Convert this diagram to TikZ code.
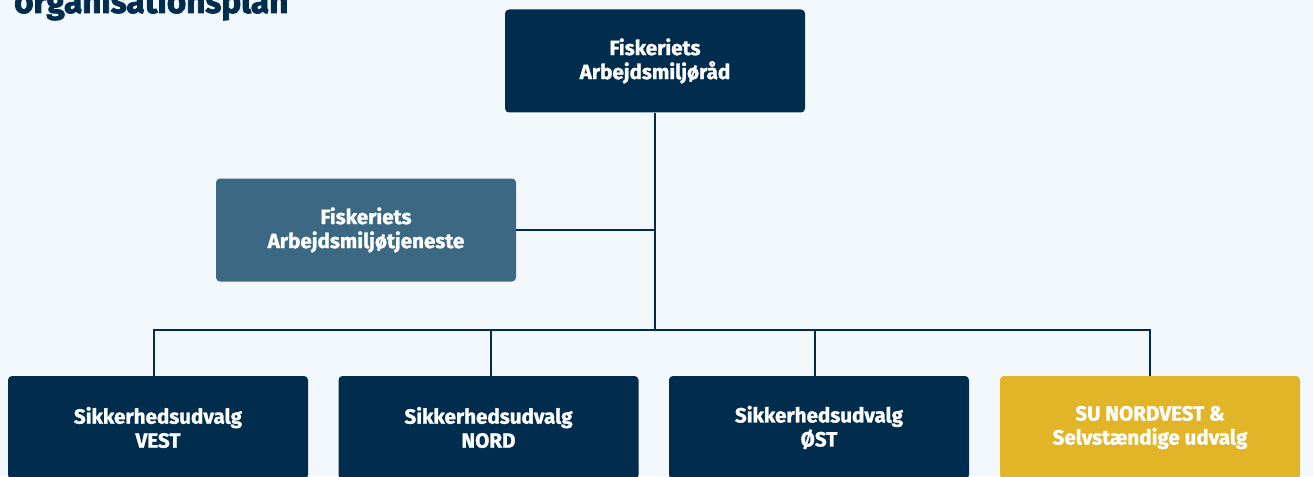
\documentclass[tikz,border=0pt]{standalone}
\usepackage{fontspec}
\setmainfont{Fira Sans}
\newfontfamily\heavyfont[BoldFeatures={FakeBold=1.3}]{Fira Sans}
\newfontfamily\blackfont[BoldFeatures={FakeBold=2.4}]{Fira Sans}
\definecolor{bg}{HTML}{F3F8FC}
\definecolor{navy}{HTML}{002D4E}
\definecolor{steel}{HTML}{3B6882}
\definecolor{gold}{HTML}{E2B428}
\tikzset{
  orgbox/.style={fill=navy, rounded corners=4pt, minimum width=300pt, minimum height=103pt,
    inner sep=0pt, align=center, text=white, font=\heavyfont\fontsize{20.6}{24}\selectfont\bfseries},
  link/.style={draw=navy, line width=2pt}
}
\begin{document}
\begin{tikzpicture}[x=1pt,y=-1pt]
\useasboundingbox (0,0) rectangle (1313,476);
\fill[bg] (0,0) rectangle (1313,476);
\node[anchor=base west, text=navy, font=\blackfont\fontsize{33.2}{36}\selectfont\bfseries, inner sep=0pt] (title) at (14,13) {organisationsplan};
\node[orgbox] (top) at (655,61) {Fiskeriets\\Arbejdsmiljøråd};
\node[orgbox, fill=steel] (mid) at (366,230) {Fiskeriets\\Arbejdsmiljøtjeneste};
\node[orgbox] (vest) at (158,427.5) {Sikkerhedsudvalg\\VEST};
\node[orgbox] (nord) at (488.5,427.5) {Sikkerhedsudvalg\\NORD};
\node[orgbox] (ost) at (819,427.5) {Sikkerhedsudvalg\\ØST};
\node[orgbox, fill=gold] (nv) at (1150,427.5) {SU NORDVEST \&\\Selvstændige udvalg};
\coordinate (bus) at (655,330);
\draw[link] (top.south) -- (bus);
\draw[link] (mid.east) -- (mid.east -| top.south);
\draw[link] (vest.north -| 154,0) |- (bus);
\draw[link] (nv.north) |- (bus);
\draw[link] (nord.north -| 491,0) -- (491,330);
\draw[link] (ost.north -| 815,0) -- (815,330);
\end{tikzpicture}
\end{document}
